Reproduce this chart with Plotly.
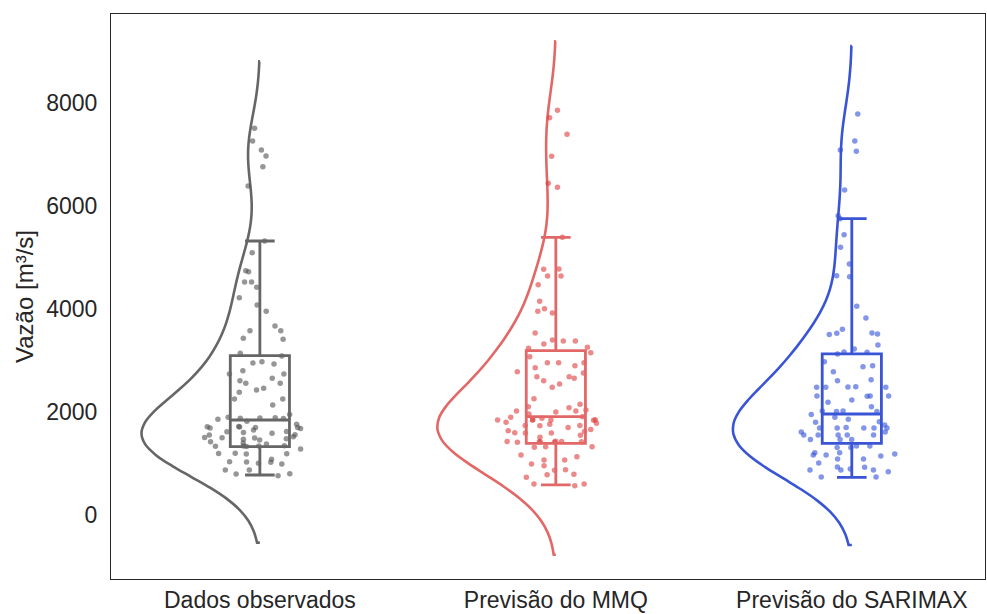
import plotly.graph_objects as go

categories = ["Dados observados", "Previsão do MMQ", "Previsão do SARIMAX"]

obs = [7510, 7263, 7088, 6972, 6764, 6389, 5321, 5094, 4725, 4745, 4525, 4525, 4422, 4220, 3955, 4078, 3670, 3579, 3579, 3431, 3412,
       3088, 3140, 2950, 2930, 2977, 2802, 2738, 2738, 2654, 2608, 2557, 2557, 2427, 2460, 2383, 2253, 2253, 2136,
       1884, 1890, 1875, 1880, 1709, 1715, 1700, 1690, 1700, 1618, 1553, 1456, 1470, 1587, 1505, 1500, 1495, 1398, 1282,
       1340, 1345, 1335, 1342, 1330, 1184, 1194, 1190, 1200, 1035, 990, 1082, 1030, 1025, 1004, 874, 763, 796, 800, 874,
       1950, 1900, 1860, 1820, 1760, 1720, 1680, 1650, 1620, 1600, 1560, 1520, 1480, 1420, 1380]

mmq = [7859, 7716, 7393, 6966, 6364, 6442, 5393, 4777, 4770, 4641, 4641, 4473, 4150, 4006, 3923, 3955, 3534, 3398,
       3379, 3379, 3237, 3321, 3256, 3152, 3074, 2958, 2900, 2958, 2958, 2861, 2783, 2758, 2686, 2686, 2654, 2608, 2544,
       2480, 2259, 2084, 1909, 2020, 2020, 2039,
       1845, 1850, 1840, 1845, 1850, 1845, 1761, 1738, 1735, 1740, 1637, 1592, 1590, 1595, 1509, 1427, 1430, 1425, 1427,
       1418, 1420, 1415, 1418, 1315, 1327, 1327,
       1068, 1133, 1165, 1068, 990, 957, 880, 870, 790, 780, 732, 602, 600, 569,
       2150, 2100, 2000, 1960, 1900, 1880, 1800, 1780, 1700, 1660, 1620, 1550]

sarimax = [7787, 7263, 7062, 7088, 6311, 5813, 5754, 5443, 5199, 4874, 4647, 4628, 4053, 3826, 3515, 3505, 3606, 3528, 3534,
           3224, 3302, 3127, 3165, 3160, 2977, 2900, 2783, 2880, 2628, 2608, 2480, 2480, 2485, 2490, 2480, 2311, 2311, 2311,
           2305, 2233, 2188, 2020, 2020, 2010, 2010,
           1812, 1858, 1690, 1690, 1690, 1690, 1690, 1612, 1612, 1553, 1553, 1553, 1553, 1553, 1466, 1466, 1466, 1340, 1340,
           1311, 1311, 1210, 1210, 1184, 1165, 1165, 1146, 1088, 1088, 1010, 932, 874, 874, 874, 893, 926, 841, 738, 738,
           2100, 1950, 1900, 1800, 1750, 1700]

series = [obs, mmq, sarimax]

# box statistics
lower_fence = [777, 583, 732]
q1 = [1327, 1392, 1392]
median = [1845, 1909, 1961]
q3 = [3095, 3190, 3127]
upper_fence = [5321, 5393, 5754]

bandwidths = [650, 670, 660]

y_ticks = [0, 2000, 4000, 6000, 8000]

line_colors = ["rgb(102,102,102)", "rgb(226,104,104)", "rgb(58,84,214)"]
point_colors = ["rgba(80,80,80,0.6)", "rgba(220,60,60,0.6)", "rgba(50,80,215,0.6)"]

fig = go.Figure()

for i, vals in enumerate(series):
    fig.add_trace(go.Violin(
        y=vals, x0=i, side="negative", bandwidth=bandwidths[i], spanmode="soft",
        width=0.8, scalemode="width", points=False,
        line=dict(color=line_colors[i], width=2.6),
        fillcolor="rgba(0,0,0,0)", box_visible=False, meanline_visible=False,
        showlegend=False, hoverinfo="skip",
    ))
    fig.add_trace(go.Box(
        y=vals, x0=i, boxpoints="all", jitter=1, pointpos=0, width=0.4,
        line=dict(color="rgba(0,0,0,0)", width=0), fillcolor="rgba(0,0,0,0)",
        marker=dict(color=point_colors[i], size=5.5, line=dict(width=0)),
        showlegend=False, hoverinfo="skip",
    ))
    fig.add_trace(go.Box(
        x=[i], q1=[q1[i]], median=[median[i]], q3=[q3[i]],
        lowerfence=[lower_fence[i]], upperfence=[upper_fence[i]],
        width=0.2, whiskerwidth=0.5, boxpoints=False,
        line=dict(color=line_colors[i], width=2.8), fillcolor="rgba(0,0,0,0)",
        showlegend=False, hoverinfo="skip",
    ))

fig.update_layout(
    width=987, height=614,
    margin=dict(l=111, r=2, t=14, b=35),
    paper_bgcolor="white", plot_bgcolor="white",
    violinmode="overlay", boxmode="overlay",
    font=dict(family="Liberation Sans, Arial, sans-serif", color="#262626"),
    xaxis=dict(
        range=[-0.503, 2.45], tickmode="array", tickvals=[0, 1, 2], ticktext=categories,
        showgrid=False, zeroline=False, showline=True, mirror=True, automargin=False,
        linecolor="#262626", linewidth=1.2, ticks="", tickfont=dict(size=23),
        ticklabelstandoff=0,
    ),
    yaxis=dict(
        range=[-1243, 9729], tickmode="array", tickvals=y_ticks,
        showgrid=False, zeroline=False, showline=True, mirror=True, automargin=False,
        linecolor="#262626", linewidth=1.2, ticks="", tickfont=dict(size=23),
        ticklabelstandoff=8,
        title=dict(text="Vazão [m³/s]", font=dict(size=24), standoff=5),
    ),
)

fig.write_html("out.html", config={"displayModeBar": False},
               post_script="document.body.style.margin='0';document.body.style.padding='0';")
